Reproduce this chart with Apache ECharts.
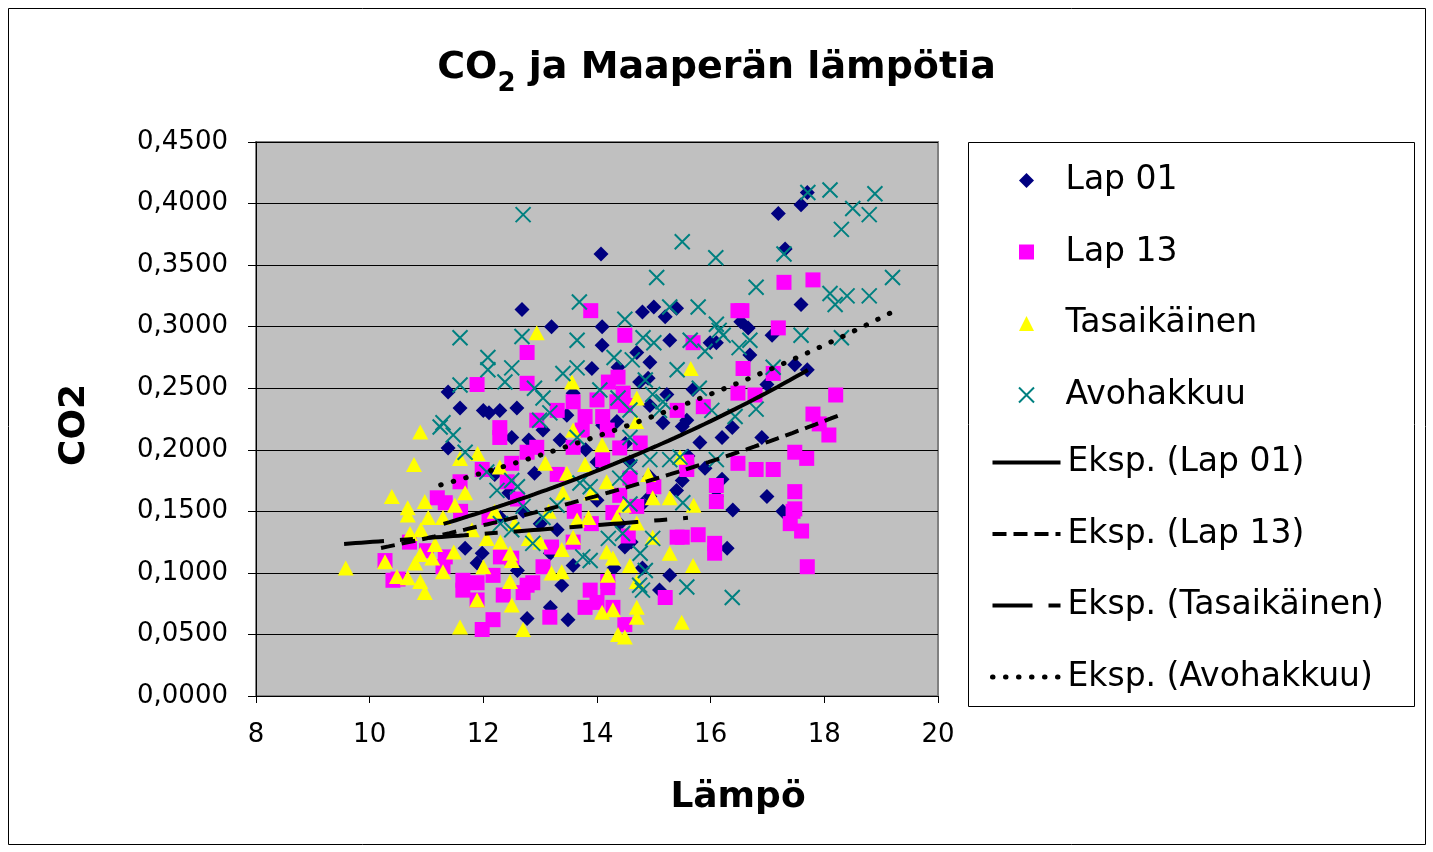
<!DOCTYPE html>
<html>
<head>
<meta charset="utf-8">
<script src="https://cdn.jsdelivr.net/npm/echarts@6/dist/echarts.min.js"></script>
<style>
html,body{margin:0;padding:0;background:#fff;}
#chart{width:1433px;height:852px;}
</style>
</head>
<body>
<div id="chart"></div>
<script>
// ---- Data ----
const xTicks = [8, 10, 12, 14, 16, 18, 20];
const yTicks = [0, 0.05, 0.1, 0.15, 0.2, 0.25, 0.3, 0.35, 0.4, 0.45];

const lap01 = [
[14.07,0.359],[12.68,0.314],[17.19,0.392],[17.31,0.363],[17.7,0.409],[17.59,0.399],[17.59,0.318],[17.7,0.265],
[14.8,0.312],[15.4,0.315],[15.2,0.308],[14.09,0.300],[16.53,0.304],[16.66,0.299],[15.0,0.316],
[11.38,0.247],[11.59,0.234],[12.0,0.232],[12.29,0.232],[12.59,0.234],[12.5,0.210],[11.38,0.2015],[11.59,0.149],
[11.98,0.116],[11.89,0.108],[11.68,0.120],[12.77,0.063],[12.6,0.102],
[13.38,0.090],[13.18,0.072],[13.49,0.062],[14.49,0.121],[14.3,0.104],[15.28,0.098],[15.1,0.086],[14.8,0.104],[16.29,0.120],[13.18,0.116],[13.58,0.106],
[16.69,0.277],[17.08,0.293],[17.48,0.269],[16.99,0.253],[16.9,0.210],[16.99,0.162],[16.39,0.151],[17.27,0.150],[16.38,0.218],
[14.09,0.285],[13.91,0.266],[14.37,0.267],[14.7,0.279],[15.28,0.289],[15.99,0.287],[14.93,0.271],[14.9,0.258],[14.75,0.255],[15.69,0.249],[15.23,0.245],[14.93,0.236],[15.16,0.222],[15.58,0.224],[15.81,0.206],[16.2,0.176],[15.5,0.219],[14.35,0.223],[14.93,0.178],[14.58,0.190],[14.0,0.190],[13.58,0.246],[13.47,0.228],[13.05,0.216],[13.35,0.208],[12.9,0.181],[14.93,0.162],[14.0,0.159],[16.1,0.162],[15.4,0.167],[14.8,0.156],
[12.2,0.180],[12.45,0.165],[12.7,0.150],[13.0,0.140],[13.3,0.135],[12.3,0.145],[14.1,0.220],[13.8,0.200],[14.5,0.205],[15.6,0.195],[15.9,0.185],[16.2,0.210],[16.1,0.287],[13.2,0.300],[15.5,0.175],[14.6,0.125],[14.4,0.140],[12.1,0.230],[12.8,0.208]
];

const lap13 = [
[18.2,0.2445],[17.29,0.336],[17.8,0.338],[16.48,0.313],[17.19,0.299],
[16.57,0.266],[17.1,0.262],[16.48,0.246],[16.78,0.2445],[17.8,0.229],[17.91,0.221],[18.08,0.212],[17.48,0.198],[17.69,0.193],[16.48,0.189],[16.8,0.184],[17.1,0.184],[17.48,0.166],[17.48,0.152],
[17.4,0.140],[17.6,0.134],[17.7,0.105],[17.45,0.150],
[15.41,0.129],[15.78,0.131],[16.07,0.124],[16.07,0.116],[13.05,0.105],[13.88,0.086],[14.19,0.088],[14.28,0.072],[13.79,0.072],[14.0,0.076],[13.17,0.064],[14.49,0.058],[15.2,0.080],[14.19,0.093],[12.87,0.092],[13.2,0.121],[13.58,0.125],[15.5,0.129],
[10.41,0.094],[10.27,0.110],[11.64,0.094],[11.89,0.092],[11.64,0.086],[11.89,0.078],[12.17,0.062],[11.98,0.054],[12.17,0.098],[12.35,0.082],[12.5,0.112],[12.3,0.113],[11.33,0.113],[12.77,0.090],[12.7,0.084],[11.29,0.105],[10.5,0.095],
[11.89,0.253],[12.29,0.218],[12.29,0.210],[11.98,0.184],[11.59,0.174],[11.19,0.161],[11.33,0.157],[12.42,0.174],[12.5,0.189],[12.77,0.198],[12.77,0.279],[12.77,0.254],[13.89,0.313],
[14.49,0.293],[15.69,0.287],[14.37,0.259],[13.58,0.239],[14.0,0.2405],[14.46,0.246],[14.5,0.236],[13.79,0.227],[14.1,0.227],[12.94,0.224],[13.3,0.232],[15.87,0.235],[15.41,0.232],[13.74,0.216],[14.18,0.216],[13.58,0.202],[14.4,0.2015],[14.76,0.2055],[12.94,0.202],[14.1,0.192],[14.58,0.177],[15.58,0.184],[16.1,0.171],[16.1,0.158],[15.58,0.190],[14.28,0.149],[14.7,0.154],[13.3,0.180],[15.0,0.170],[14.2,0.255],[14.35,0.239],[12.1,0.145],[12.6,0.160],[11.6,0.150],[11.0,0.118],[10.7,0.125],[13.6,0.150],[13.9,0.140],[14.55,0.130],[14.4,0.163],[16.55,0.313]
];

const tasaikainen = [
[10.89,0.2145],[10.78,0.188],[10.39,0.162],[10.67,0.153],[10.97,0.158],[11.68,0.165],[11.9,0.197],[11.59,0.193],[12.29,0.186],
[9.58,0.104],[10.27,0.109],[10.48,0.097],[10.67,0.096],[10.89,0.093],[10.97,0.084],[10.8,0.108],[10.89,0.115],[11.1,0.112],[11.29,0.101],[11.48,0.117],[11.59,0.056],[11.89,0.078],[12.06,0.128],[12.47,0.116],[12.47,0.093],[12.5,0.074],[12.7,0.054],[12.5,0.110],[10.71,0.132],[10.9,0.135],[11.03,0.145],[11.29,0.145],[10.67,0.147],[11.15,0.123],
[13.38,0.119],[13.38,0.101],[13.58,0.129],[14.17,0.117],[14.28,0.112],[14.19,0.098],[14.58,0.106],[14.7,0.093],[14.7,0.072],[14.7,0.064],[14.09,0.068],[14.28,0.070],[14.37,0.050],[14.49,0.048],[15.28,0.116],[15.69,0.106],[15.49,0.060],[14.7,0.1405],[14.98,0.129],[13.65,0.143],[13.85,0.145],[14.35,0.145],
[12.94,0.295],[15.65,0.266],[13.56,0.255],[14.7,0.242],[14.69,0.223],[14.09,0.204],[13.09,0.189],[13.58,0.216],[13.79,0.188],[13.47,0.181],[14.17,0.174],[14.98,0.161],[15.28,0.161],[14.47,0.155],[13.4,0.165],[13.15,0.150],[15.46,0.194],[15.7,0.155],[12.2,0.150],[12.55,0.140],[12.8,0.128],[13.0,0.125],[11.8,0.135],[12.3,0.125],[11.5,0.155],[12.0,0.105],[13.2,0.100],[14.9,0.180],[13.9,0.165]
];

const avohakkuu = [
[12.7,0.391],[15.5,0.369],[16.09,0.356],[15.05,0.340],[13.69,0.320],[15.78,0.316],[15.28,0.316],[14.49,0.306],
[17.71,0.409],[18.1,0.411],[18.89,0.408],[18.5,0.396],[18.79,0.391],[18.3,0.379],[17.29,0.359],[16.8,0.332],[19.2,0.340],[18.1,0.327],[18.4,0.325],[18.79,0.325],[18.19,0.318],
[17.59,0.293],[18.3,0.291],[16.69,0.289],[17.1,0.267],[16.8,0.233],[16.43,0.227],
[16.38,0.080],[15.58,0.0885],[14.8,0.086],[14.75,0.090],[14.85,0.102],[14.76,0.116],[14.98,0.128],[14.45,0.132],[13.88,0.110],[13.75,0.113],[12.87,0.124],[14.2,0.128],[13.05,0.145],
[11.59,0.291],[12.08,0.275],[12.08,0.265],[12.5,0.2665],[12.38,0.255],[12.68,0.292],[11.59,0.2526],[11.29,0.222],[11.24,0.2185],[11.47,0.212],[11.68,0.198],[12.06,0.182],[12.24,0.167],[12.5,0.175],[12.6,0.170],[12.7,0.154],
[13.65,0.289],[14.81,0.291],[15.0,0.287],[15.64,0.289],[16.22,0.293],[13.65,0.2665],[14.62,0.273],[14.85,0.2567],[15.41,0.265],[14.98,0.245],[15.16,0.239],[15.1,0.232],[14.58,0.2323],[14.05,0.2486],[14.37,0.242],[13.05,0.242],[13.17,0.230],[12.99,0.224],[16.02,0.232],[14.58,0.210],[13.65,0.210],[14.93,0.192],[15.28,0.192],[15.46,0.194],[14.58,0.186],[13.7,0.173],[13.88,0.170],[14.4,0.177],[14.58,0.156],[16.1,0.192],[15.51,0.157],
[12.5,0.135],[12.3,0.140],[13.3,0.155],[16.1,0.302],[16.15,0.297],[15.9,0.280],[16.5,0.283],[12.9,0.250],[13.4,0.262],[15.8,0.250],[14.3,0.275]
];

// Exponential trend lines y = a * e^(b x), drawn over [x0, x1]
const markerNames = ['Lap 01', 'Lap 13', 'Tasaikäinen', 'Avohakkuu'];
const trendNames = ['Eksp. (Lap 01)', 'Eksp. (Lap 13)', 'Eksp. (Tasaikäinen)', 'Eksp. (Avohakkuu)'];
const trendA  = [0.0453, 0.0535, 0.0963, 0.0735];
const trendB  = [0.0997, 0.0794, 0.0261, 0.0753];
const trendX0 = [11.3, 10.2, 9.55, 11.25];
const trendX1 = [17.71, 18.24, 15.6, 19.16];

// ---- Chart ----
const FONT = 'DejaVu Sans';
function trendData(i) {
  const pts = [];
  const n = 60;
  for (let k = 0; k <= n; k++) {
    const x = trendX0[i] + (trendX1[i] - trendX0[i]) * k / n;
    pts.push([x, trendA[i] * Math.exp(trendB[i] * x)]);
  }
  return pts;
}

const chart = echarts.init(document.getElementById('chart'), null, {renderer: 'canvas'});

const trendStyles = [
  {type: 'solid', width: 4, cap: 'butt'},
  {type: [14, 7], width: 4, cap: 'butt'},
  {type: [40, 16, 13, 16], width: 4, cap: 'butt'},
  {type: [0.5, 12.5], width: 5, cap: 'round'}
];

const series = [
  {name: markerNames[0], type: 'scatter', data: lap01, symbol: 'diamond', symbolSize: 15,
   itemStyle: {color: '#000080', opacity: 1}},
  {name: markerNames[1], type: 'scatter', data: lap13, symbol: 'rect', symbolSize: 15,
   itemStyle: {color: '#FF00FF', opacity: 1}},
  {name: markerNames[2], type: 'scatter', data: tasaikainen, symbol: 'triangle', symbolSize: [16, 15],
   itemStyle: {color: '#FFFF00', opacity: 1}},
  {name: markerNames[3], type: 'scatter', data: avohakkuu, symbol: 'path://M0,0L10,10M10,0L0,10', symbolSize: 15,
   itemStyle: {color: 'none', borderColor: '#008080', borderWidth: 2, opacity: 1}}
];
trendNames.forEach((nm, i) => {
  series.push({
    name: nm, type: 'line', data: trendData(i), showSymbol: false, symbol: 'none', smooth: false,
    lineStyle: {color: '#000', width: trendStyles[i].width, type: trendStyles[i].type, cap: trendStyles[i].cap},
    itemStyle: {color: '#000'}, z: 5, silent: true
  });
});

const legendText = {fontFamily: FONT, fontSize: 33, color: '#000', lineHeight: 32};

const option = {
  animation: false,
  backgroundColor: '#fff',
  title: {
    text: '{a|CO}{b|2}{a| ja Maaperän lämpötia}',
    left: 'center', top: 44,
    textStyle: {
      rich: {
        a: {fontFamily: FONT, fontWeight: 'bold', fontSize: 38, color: '#000', verticalAlign: 'top', lineHeight: 44},
        b: {fontFamily: FONT, fontWeight: 'bold', fontSize: 26, color: '#000', verticalAlign: 'top', lineHeight: 30, padding: [22, 0, 0, 0]}
      }
    }
  },
  legend: [
    {
      orient: 'vertical', left: 1016.5, top: 164, padding: 0,
      itemWidth: 15, itemHeight: 15, itemGap: 38.5, symbolKeepAspect: true,
      textStyle: Object.assign({padding: [0, 0, 0, 26.5]}, legendText),
      data: markerNames, selectedMode: false
    },
    {
      orient: 'vertical', left: 990, top: 446, padding: 0,
      itemWidth: 68, itemHeight: 15, itemGap: 38.5,
      itemStyle: {opacity: 0},
      textStyle: Object.assign({padding: [0, 0, 0, 2]}, legendText),
      data: trendNames.map((nm, i) => ({
        name: nm,
        lineStyle: {color: '#000', width: trendStyles[i].width, type: trendStyles[i].type, cap: trendStyles[i].cap}
      })),
      selectedMode: false
    }
  ],
  grid: {left: 256, top: 142, width: 682, height: 554, show: true,
         backgroundColor: '#C0C0C0', borderColor: '#808080', borderWidth: 2},
  xAxis: {
    type: 'value', min: xTicks[0], max: xTicks[xTicks.length - 1], interval: 2,
    name: 'Lämpö', nameLocation: 'middle', nameGap: 84,
    nameTextStyle: {fontFamily: FONT, fontWeight: 'bold', fontSize: 36, color: '#000', padding: [0, 0, 0, 282]},
    axisLine: {show: true, onZero: false, lineStyle: {color: '#000', width: 1}},
    axisTick: {show: true, inside: false, length: 7, lineStyle: {color: '#000'}},
    axisLabel: {fontFamily: FONT, fontSize: 26, color: '#000', margin: 26},
    splitLine: {show: false}
  },
  yAxis: {
    type: 'value', min: yTicks[0], max: yTicks[yTicks.length - 1], interval: 0.05,
    name: 'CO2', nameLocation: 'middle', nameGap: 163, nameRotate: 90,
    nameTextStyle: {fontFamily: FONT, fontWeight: 'bold', fontSize: 36, color: '#000', padding: [0, 12, 0, 0]},
    axisLine: {show: true, onZero: false, lineStyle: {color: '#000', width: 1}},
    axisTick: {show: true, inside: false, length: 8, lineStyle: {color: '#000'}},
    axisLabel: {fontFamily: FONT, fontSize: 26, color: '#000', margin: 28,
      formatter: v => v.toFixed(4).replace('.', ',')},
    splitLine: {show: true, lineStyle: {color: '#000', width: 1}}
  },
  graphic: [
    {type: 'rect', shape: {x: 8.5, y: 8.5, width: 1417, height: 836}, silent: true, z: -10,
     style: {fill: 'none', stroke: '#000', lineWidth: 1}},
    {type: 'rect', shape: {x: 968.5, y: 142.5, width: 446, height: 564}, silent: true, z: -10,
     style: {fill: '#fff', stroke: '#000', lineWidth: 1}}
  ],
  series: series
};
chart.setOption(option);
</script>
</body>
</html>
